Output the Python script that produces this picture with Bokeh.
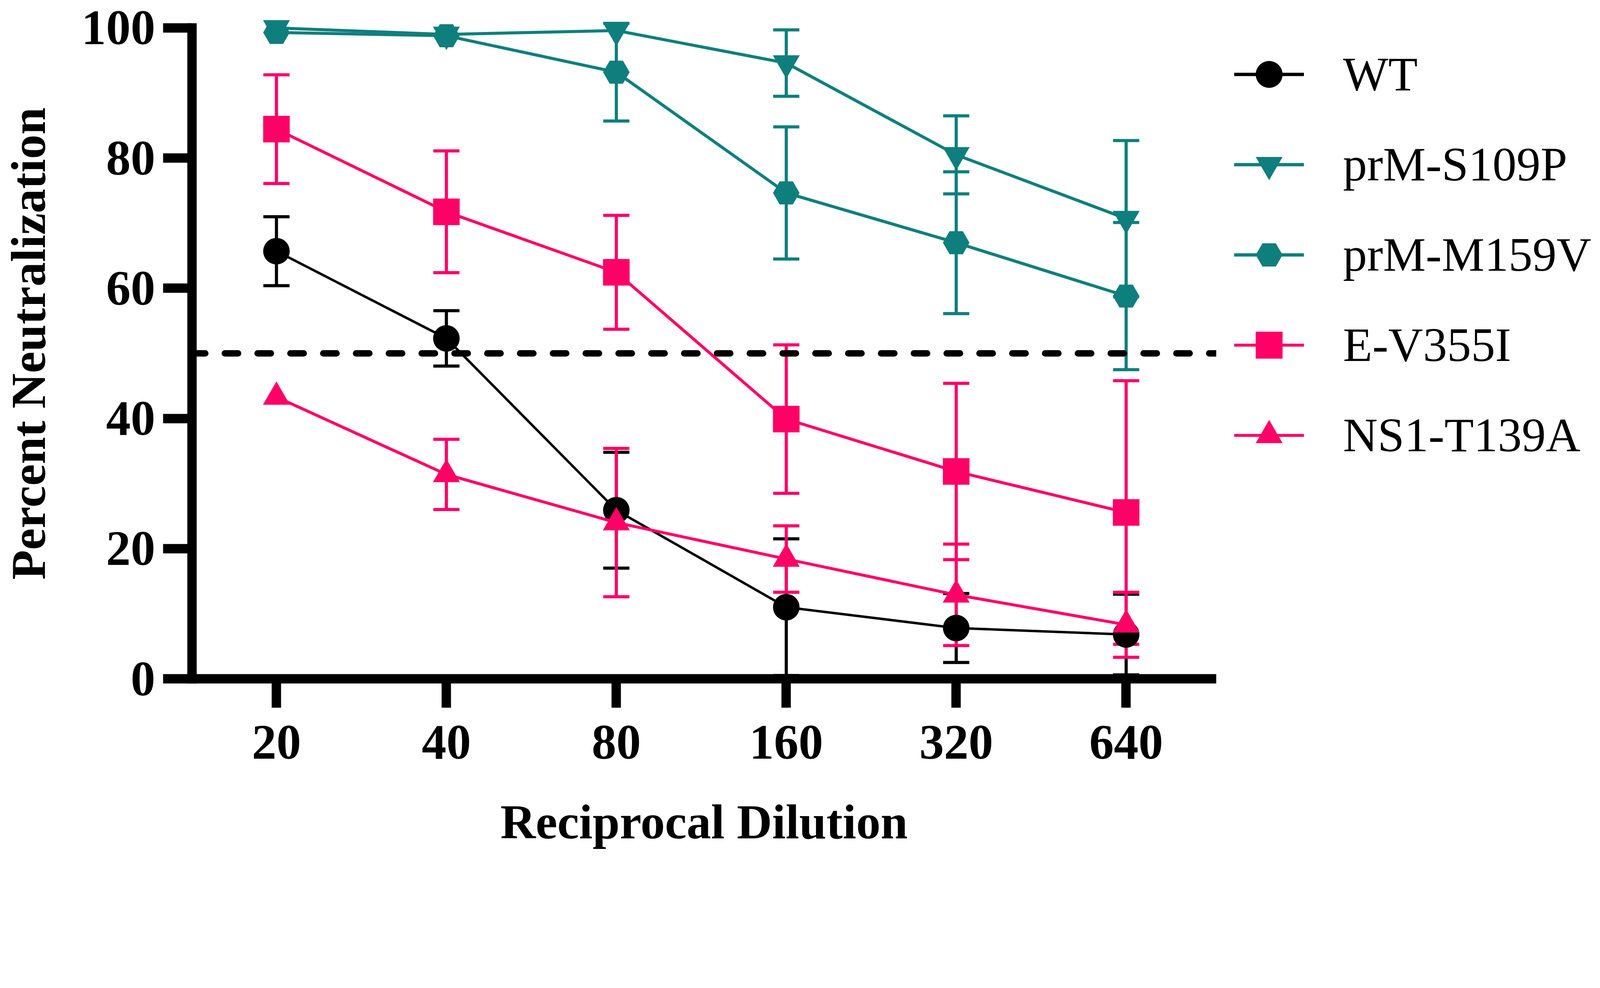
from bokeh.plotting import figure
from bokeh.layouts import row
from bokeh.models import (Range1d, FixedTicker, Legend, LegendItem, Span,
                          Whisker, TeeHead, ColumnDataSource)
from bokeh.embed import file_html
from bokeh.resources import INLINE

# ---------------- data ----------------
dilutions = ["20", "40", "80", "160", "320", "640"]

wt_mean = [65.7, 52.3, 25.9, 11.0, 7.8, 6.8]
wt_err = [5.3, 4.25, 8.9, 10.5, 5.3, 6.2]

s109p_mean = [100.0, 99.0, 99.6, 94.6, 80.5, 70.7]
s109p_err = [0.0, 0.0, 0.0, 5.1, 6.0, 12.0]

m159v_mean = [99.3, 98.8, 93.2, 74.65, 67.0, 58.8]
m159v_err = [0.0, 0.0, 7.5, 10.15, 10.9, 11.3]

ev355i_mean = [84.45, 71.75, 62.45, 39.9, 31.85, 25.55]
ev355i_err = [8.35, 9.35, 8.75, 11.4, 13.55, 20.25]

ns1_mean = [43.3, 31.4, 24.0, 18.4, 12.9, 8.3]
ns1_err = [0.0, 5.4, 11.4, 5.1, 7.8, 5.0]

series_names = ["WT", "prM-S109P", "prM-M159V", "E-V355I", "NS1-T139A"]
y_ticks = [0, 20, 40, 60, 80, 100]
threshold = 50

TEAL = "#0F7F7D"
PINK = "#FF0066"
BLACK = "#000000"

styles = [
    dict(name=series_names[0], mean=wt_mean, err=wt_err, color=BLACK, marker="circle", size=68, lw=6.3, leg_lw=8.5),
    dict(name=series_names[1], mean=s109p_mean, err=s109p_err, color=TEAL, marker="inverted_triangle", size=69, lw=7.8, leg_lw=8.5),
    dict(name=series_names[2], mean=m159v_mean, err=m159v_err, color=TEAL, marker="hex", size=68, lw=7.8, leg_lw=8.5),
    dict(name=series_names[3], mean=ev355i_mean, err=ev355i_err, color=PINK, marker="square", size=68, lw=7.5, leg_lw=7.5),
    dict(name=series_names[4], mean=ns1_mean, err=ns1_err, color=PINK, marker="triangle", size=69, lw=7.5, leg_lw=7.5),
]

xs = list(range(len(dilutions)))

FONT = "Liberation Serif"
H = 2183
FRAME_BOTTOM = 1737

p = figure(width=3133, height=H, output_backend="svg", toolbar_location=None,
           x_range=Range1d(-0.497, 5.53), y_range=Range1d(0, 103.0),
           min_border_left=466, min_border_right=20, min_border_top=21,
           min_border_bottom=H - FRAME_BOTTOM)
p.background_fill_color = "white"
p.border_fill_color = "white"
p.outline_line_color = None
p.grid.visible = False

for ax in (p.xaxis[0], p.yaxis[0]):
    ax.axis_line_width = 24
    ax.axis_line_color = "black"
    ax.major_tick_line_width = 24
    ax.major_tick_line_color = "black"
    ax.major_tick_out = 74
    ax.major_tick_in = 0
    ax.minor_tick_line_color = None
    ax.major_label_text_font = FONT
    ax.major_label_text_font_style = "bold"
    ax.major_label_text_font_size = "126px"
    ax.major_label_text_color = "black"
    ax.axis_label_text_font = FONT
    ax.axis_label_text_font_style = "bold"
    ax.axis_label_text_font_size = "125px"
    ax.axis_label_text_color = "black"

p.xaxis.ticker = FixedTicker(ticks=xs)
p.xaxis.major_label_overrides = {i: d for i, d in zip(xs, dilutions)}
p.xaxis.axis_label = "Reciprocal Dilution"
p.xaxis.major_label_standoff = 46
p.xaxis.axis_label_standoff = 90

p.yaxis.ticker = FixedTicker(ticks=y_ticks)
p.yaxis.bounds = (0, 100)
p.yaxis.axis_line_cap = "square"
p.yaxis.axis_label = "Percent Neutralization"
p.yaxis.major_label_standoff = 20
p.yaxis.major_label_orientation = "horizontal"
p.yaxis.axis_label_standoff = 64

# 50% threshold line
p.add_layout(Span(location=threshold, dimension="width", line_color="black",
                  line_width=16.5, line_dash="34 50", line_cap="round"))

for st in styles:
    src = ColumnDataSource(dict(x=xs, y=st["mean"]))
    ex = [x for x, e in zip(xs, st["err"]) if e > 0]
    em = [m for m, e in zip(st["mean"], st["err"]) if e > 0]
    ee = [e for e in st["err"] if e > 0]
    esrc = ColumnDataSource(dict(x=ex, upper=[m + e for m, e in zip(em, ee)],
                                 lower=[m - e for m, e in zip(em, ee)]))
    w = Whisker(source=esrc, base="x", upper="upper", lower="lower", dimension="height",
                line_color=st["color"], line_width=8,
                upper_head=TeeHead(size=67, line_color=st["color"], line_width=8),
                lower_head=TeeHead(size=67, line_color=st["color"], line_width=8))
    p.add_layout(w)
    p.line("x", "y", source=src, line_color=st["color"], line_width=st["lw"])
    p.scatter("x", "y", source=src, marker=st["marker"], size=st["size"],
              fill_color=st["color"], line_color=None)

# ---------------- legend panel (its own canvas, data kept out of view) ----------------
q = figure(width=958, height=H, output_backend="svg", toolbar_location=None,
           x_range=Range1d(0, 1), y_range=Range1d(-2, -1),
           x_axis_location=None, y_axis_location=None, min_border=0)
q.outline_line_color = None
q.grid.visible = False
q.background_fill_color = "white"
q.border_fill_color = "white"

items = []
for st in styles:
    qsrc = ColumnDataSource(dict(x=xs, y=st["mean"]))
    lr = q.line("x", "y", source=qsrc, line_color=st["color"], line_width=st["leg_lw"])
    sr = q.scatter("x", "y", source=qsrc, marker=st["marker"], size=st["size"],
                   fill_color=st["color"], line_color=None)
    items.append(LegendItem(label=st["name"], renderers=[lr, sr]))

# legend bottom sits above the (row-aligned) frame bottom
legend = Legend(items=items, location=(26, 537), orientation="vertical",
                glyph_width=179, glyph_height=172, spacing=59, label_standoff=100,
                label_text_font=FONT, label_text_font_size="123px",
                label_text_color="black", padding=0, margin=0,
                border_line_color=None, background_fill_alpha=0)
q.add_layout(legend)

layout = row(p, q)
open("out.html", "w").write(file_html(layout, INLINE))
